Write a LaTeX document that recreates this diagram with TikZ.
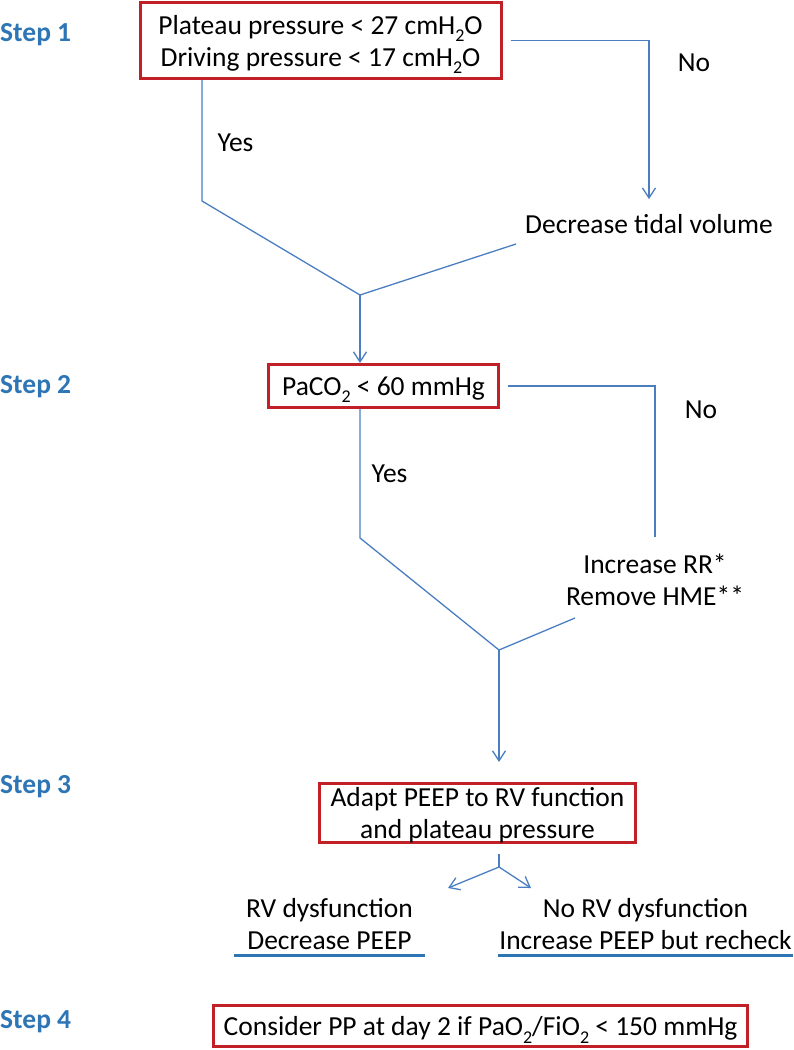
\documentclass[tikz,border=0pt]{standalone}
\usepackage{fontspec}
\setmainfont{Carlito}
\usetikzlibrary{arrows.meta}

\definecolor{boxred}{RGB}{192,32,38}
\definecolor{lineblue}{RGB}{74,126,193}
\definecolor{stepblue}{RGB}{46,117,182}
\newcommand{\lowtwo}{\raisebox{-0.28em}{\fontsize{18}{18}\selectfont 2}}

\begin{document}
\begin{tikzpicture}[x=1pt, y=-1pt]
  \tikzset{BoxStyle/.style = {
  draw = boxred,
  line width = 3pt,
  align = center,
  inner sep = 0pt,
  text depth = 0pt,
  font = \fontsize{27.5}{32}\selectfont},
  TextStyle/.style = {
  align = center,
  inner sep = 0pt,
  font = \fontsize{27.5}{32}\selectfont},
  StepStyle/.style = {
  anchor = west,
  inner sep = 0pt,
  text = stepblue,
  font = \fontsize{27.5}{32}\selectfont\bfseries},
  FlowStyle/.style = {
  draw = lineblue,
  line width = 1.3pt},
  ArrowStyle/.style = {
  FlowStyle,
  -{Straight Barb[length=10pt, width=13pt]}},
  RuleStyle/.style = {
  draw = stepblue,
  line width = 3pt}}
  \useasboundingbox (0,0) rectangle (793,1050);
  \node[StepStyle] (step1) at (0,35) {Step 1};
  \node[StepStyle] (step2) at (0,387) {Step 2};
  \node[StepStyle] (step3) at (0,787) {Step 3};
  \node[StepStyle] (step4) at (0,1022) {Step 4};
  \node[BoxStyle, minimum width=361pt, minimum height=76pt] (plateau) at (320.5,40.5)
    {Plateau pressure < 27 cmH\lowtwo O\\Driving pressure < 17 cmH\lowtwo O};
  \node[TextStyle] (tidal) at (649,224) {Decrease tidal volume};
  \node[TextStyle] (no1) at (694,63) {No};
  \node[TextStyle] (yes1) at (235.5,143) {Yes};
  \coordinate (bend1) at (202,201);
  \coordinate (join1) at (360,295);
  \coordinate (from1) at (516,244);
  \draw[ArrowStyle, shorten <=8pt, shorten >=15pt] (plateau.east) -| (tidal.north);
  \draw[FlowStyle] (plateau.south -| bend1) -- (bend1) -- (join1);
  \draw[FlowStyle] (from1) -- (join1);
  \node[BoxStyle, minimum width=230pt, minimum height=43pt] (paco) at (383.5,386)
    {PaCO\lowtwo\ < 60 mmHg};
  \draw[ArrowStyle] (join1) -- (join1 |- paco.north);
  \node[TextStyle] (rr) at (655,580) {Increase RR*\\Remove HME**};
  \node[TextStyle] (no2) at (701,410) {No};
  \node[TextStyle] (yes2) at (389.5,474) {Yes};
  \coordinate (bend2) at (360,538);
  \coordinate (join2) at (499,650);
  \coordinate (from2) at (575,618);
  \draw[FlowStyle, shorten <=8pt, shorten >=17pt] (paco.east) -| (rr.north);
  \draw[FlowStyle] (paco.south -| bend2) -- (bend2) -- (join2);
  \draw[FlowStyle] (from2) -- (join2);
  \node[BoxStyle, minimum width=316pt, minimum height=59pt] (adapt) at (477.5,813)
    {Adapt PEEP to RV function\\and plateau pressure};
  \draw[ArrowStyle, shorten >=20pt] (join2) -- (join2 |- adapt.north);
  \coordinate (fork) at (499,867);
  \coordinate (leftend) at (448,888);
  \coordinate (rightend) at (531,888);
  \draw[FlowStyle, shorten <=10pt] (adapt.south -| fork) -- (fork);
  \draw[ArrowStyle] (fork) -- (leftend);
  \draw[ArrowStyle] (fork) -- (rightend);
  \node[TextStyle, minimum width=191pt] (rv) at (329.5,924) {RV dysfunction\\Decrease PEEP};
  \node[TextStyle, minimum width=295pt] (norv) at (645.5,924) {No RV dysfunction\\Increase PEEP but recheck};
  \draw[RuleStyle] ([yshift=-6pt]rv.south west) -- ([yshift=-6pt]rv.south east);
  \draw[RuleStyle] ([yshift=-6pt]norv.south west) -- ([yshift=-6pt]norv.south east);
  \node[BoxStyle, minimum width=534pt, minimum height=41pt] (prone) at (480.5,1026)
    {Consider PP at day 2 if PaO\lowtwo/FiO\lowtwo\ < 150 mmHg};
\end{tikzpicture}
\end{document}
